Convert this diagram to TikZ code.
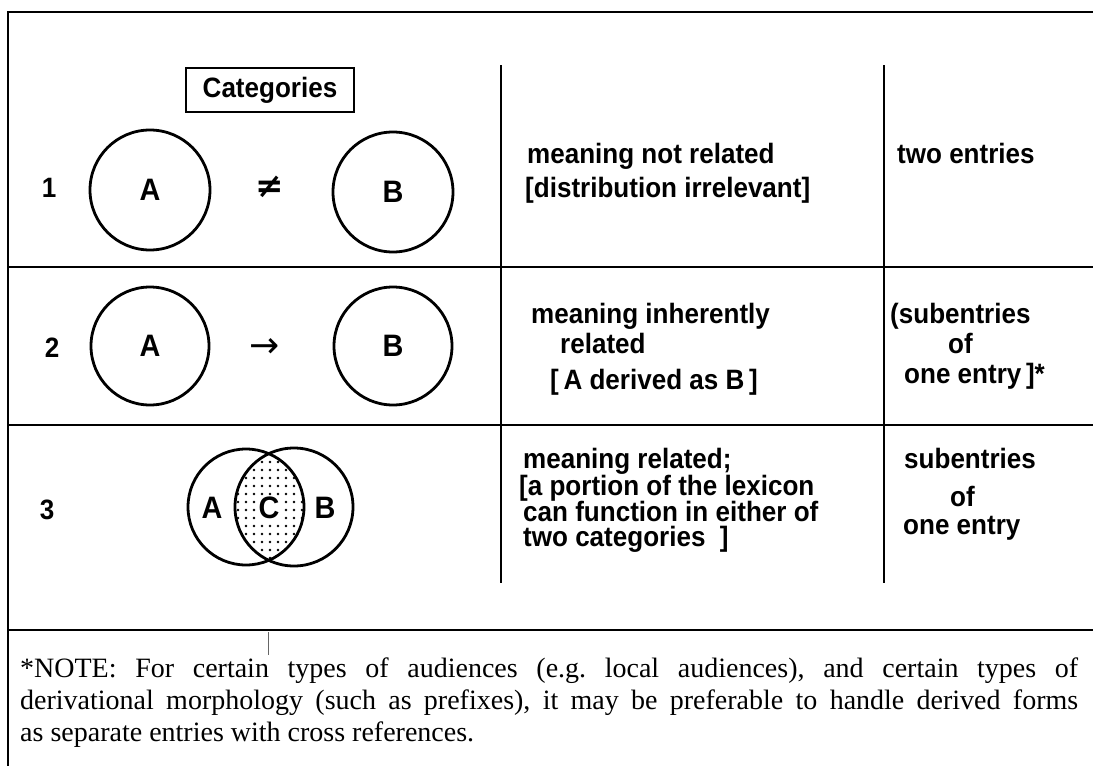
\documentclass[tikz,border=0pt]{standalone}
\usepackage{fontspec}
\setmainfont{Liberation Serif}
\newfontfamily\tabfont{Liberation Sans}[FakeStretch=0.93]
\newfontfamily\symfont{DejaVu Sans}
\frenchspacing
\begin{document}
\begin{tikzpicture}[x=1pt,y=-1pt,
  rule/.style={line width=2.8pt},
  vrule/.style={line width=2.4pt},
  tf/.style={font=\tabfont\bfseries\fontsize{28}{30}\selectfont},
  cat/.style={circle,draw,line width=2.8pt,inner sep=0pt,font=\tabfont\bfseries\fontsize{31}{31}\selectfont},
  txt/.style={anchor=base west,inner sep=0pt,tf},
  lab/.style={inner sep=0pt,tf},
  big/.style={inner sep=0pt,font=\tabfont\bfseries\fontsize{31}{31}\selectfont},
  note/.style={anchor=base west,inner sep=0pt,font=\fontsize{28}{33}\selectfont}]
\useasboundingbox (0,0) rectangle (1093,766);
\fill[white] (0,0) rectangle (1093,766);
% frame
\coordinate (TL) at (8,12);
\coordinate (TR) at (1093,12);
\coordinate (BL) at (8,766);
\draw[rule] (TR) -- (TL) -- (BL);
% row rules
\coordinate (h1l) at (8,267);  \coordinate (h1r) at (1093,267);
\coordinate (h2l) at (8,425);  \coordinate (h2r) at (1093,425);
\coordinate (h3l) at (8,630);  \coordinate (h3r) at (1093,630);
\draw[rule] (h1l) -- (h1r);
\draw[rule] (h2l) -- (h2r);
\draw[rule] (h3l) -- (h3r);
% column rules
\coordinate (v1t) at (501,65);  \coordinate (v1b) at (501,583);
\coordinate (v2t) at (884,65);  \coordinate (v2b) at (884,583);
\draw[vrule] (v1t) -- (v1b);
\draw[vrule] (v2t) -- (v2b);
% small mark
\coordinate (m1) at (268,632); \coordinate (m2) at (268,655);
\draw[line width=0.7pt,black!60] (m1) -- (m2);
% header box
\node[draw,line width=2pt,minimum width=168pt,minimum height=44pt,inner sep=0pt,tf] (head) at (270,90) {Categories};
% row 1
\node[lab] (n1) at (49,188) {1};
\node[inner sep=0pt,font=\symfont\bfseries\fontsize{34}{34}\selectfont] (ne) at (270,187) {≠};
\node[cat,minimum size=120pt] (A1) at (150,190) {A};
\node[cat,minimum size=120pt] (B1) at (393,192) {B};
% row 2
\node[lab] (n2) at (52,348) {2};
\node[cat,minimum size=118pt] (A2) at (150,346) {A};
\node[inner sep=0pt,font=\symfont\fontsize{36}{36}\selectfont] (ar) at (265,348) {→};
\node[cat,minimum size=118pt] (B2) at (393,346) {B};
% row 3
\node[lab] (n3) at (47,510) {3};
\begin{scope}
  \clip (246,507) circle[radius=58pt];
  \clip (294,507) circle[radius=59pt];
  \foreach \i in {0,...,10}{
    \foreach \j in {0,...,15}{
      \fill (230+\i*8,446+\j*8) circle[radius=1.3pt];
    }
  }
\end{scope}
\node[cat,minimum size=116pt] (A3) at (246,507) {};
\node[cat,minimum size=118pt] (B3) at (294,507) {};
\node[big] (a3) at (212,508) {A};
\node[big,fill=white,inner sep=1pt] (c3) at (269,508) {C};
\node[big] (b3) at (325,508) {B};
% middle column
\node[txt] (t11) at (527,163) {meaning not related};
\node[txt] (t12) at (525,197) {[distribution irrelevant]};
\node[txt] (t21) at (531,323) {meaning inherently};
\node[txt] (t22) at (560,353) {related};
\node[txt] (t23) at (550,389) {[\,A derived as B\,]};
\node[txt] (t31) at (523,468) {meaning related;};
\node[txt] (t32) at (519,495) {[a portion of the lexicon};
\node[txt] (t33) at (523,521) {can function in either of};
\node[txt] (t34) at (523,546) {two categories\ \ ]};
% right column
\node[txt] (r11) at (897,163) {two entries};
\node[txt] (r21) at (890,323) {(subentries};
\node[txt] (r22) at (948,353) {of};
\node[txt] (r23) at (904,383) {one entry\,]*};
\node[txt] (r31) at (904,468) {subentries};
\node[txt] (r32) at (950,506) {of};
\node[txt] (r33) at (903,534) {one entry};
% note
\node[note] (note1) at (20,677) {\makebox[1058pt][s]{*NOTE: For certain types of audiences (e.g. local audiences), and certain types of}};
\node[note] (note2) at (20,709) {\makebox[1058pt][s]{derivational morphology (such as prefixes), it may be preferable to handle derived forms}};
\node[note] (note3) at (20,741) {as separate entries with cross references.};
\end{tikzpicture}
\end{document}
